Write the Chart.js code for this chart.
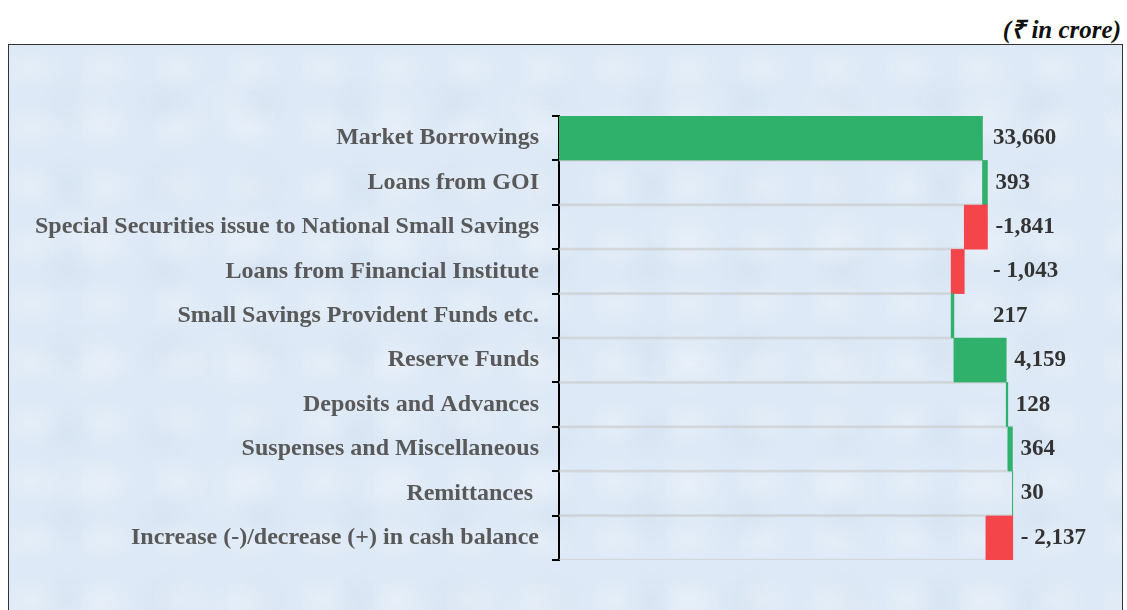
<!DOCTYPE html>
<html>
<head>
<meta charset="utf-8">
<script src="https://cdn.jsdelivr.net/npm/chart.js@4.4.1/dist/chart.umd.min.js"></script>
<style>
  html,body{margin:0;padding:0;background:#ffffff;width:1127px;height:610px;overflow:hidden;}
  #title{position:absolute;right:6px;top:11px;font-family:'Liberation Serif','Times New Roman',serif;font-weight:bold;font-style:italic;font-size:25px;color:#111;}
  #frame{position:absolute;left:8px;top:44px;width:1113px;height:600px;border:1px solid #333;
    background-color:#dde9f6;
    background-image:
      radial-gradient(ellipse at 30% 40%, rgba(255,255,255,0.22) 0, rgba(255,255,255,0) 35px),
      radial-gradient(ellipse at 60% 70%, rgba(190,205,225,0.18) 0, rgba(190,205,225,0) 30px),
      radial-gradient(ellipse at 50% 50%, rgba(255,255,255,0.15) 0, rgba(255,255,255,0) 45px);
    background-size:73px 59px, 97px 83px, 151px 127px;}
  #wrap{position:absolute;left:0;top:0;width:1127px;height:610px;}
</style>
</head>
<body>
<div id="title">(₹ in crore)</div>
<div id="frame"></div>
<div id="wrap"><canvas id="c" width="1127" height="610"></canvas></div>
<script>
const categories = [
  "Market Borrowings",
  "Loans from GOI",
  "Special Securities issue to National Small Savings",
  "Loans from Financial Institute",
  "Small Savings Provident Funds etc.",
  "Reserve Funds",
  "Deposits and Advances",
  "Suspenses and Miscellaneous",
  "Remittances ",
  "Increase (-)/decrease (+) in cash balance"
];
const values = [33660, 393, -1841, -1043, 217, 4159, 128, 364, 30, -2137];
const valueLabels = ["33,660", "393", "-1,841", "- 1,043", "217", "4,159", "128", "364", "30", "- 2,137"];

// waterfall: running totals built from the values
const starts = [];
const ends = [];
let run = 0;
values.forEach(v => { starts.push(run); run += v; ends.push(run); });
const baseData = starts.map((s, i) => Math.min(s, ends[i]));
const deltaData = values.map(v => Math.abs(v));

const GREEN = "#2fb06b";
const RED = "#f3454a";
const SERIF = "'Liberation Serif', 'Times New Roman', serif";

const valueLabelPlugin = {
  id: "valueLabels",
  afterDatasetsDraw(chart) {
    const ctx = chart.ctx;
    const xs = chart.scales.x, ys = chart.scales.y;
    const floorX = xs.getPixelForValue(34500);
    ctx.save();
    ctx.font = "bold 23px " + SERIF;
    ctx.fillStyle = "#333333";
    ctx.textAlign = "left";
    ctx.textBaseline = "middle";
    values.forEach((v, i) => {
      const endX = xs.getPixelForValue(Math.max(starts[i], ends[i]));
      const x = Math.max(endX + 8, floorX);
      const y = ys.getPixelForValue(i);
      ctx.fillText(valueLabels[i], x, y);
    });
    ctx.restore();
  }
};

new Chart(document.getElementById("c"), {
  type: "bar",
  data: {
    labels: categories,
    datasets: [
      {
        data: baseData,
        backgroundColor: "rgba(0,0,0,0)",
        borderColor: "rgba(200,200,200,0.55)",
        borderWidth: {top: 1, bottom: 1, left: 0, right: 0},
        borderSkipped: false,
        barPercentage: 1,
        categoryPercentage: 1
      },
      {
        data: deltaData,
        backgroundColor: values.map(v => v >= 0 ? GREEN : RED),
        borderWidth: 0,
        barPercentage: 1,
        categoryPercentage: 1
      }
    ]
  },
  options: {
    indexAxis: "y",
    responsive: false,
    animation: false,
    layout: {padding: {left: 0, right: 27, top: 116, bottom: 50}},
    plugins: {legend: {display: false}, tooltip: {enabled: false}},
    scales: {
      x: {
        stacked: true,
        display: false,
        min: 0,
        max: 43000
      },
      y: {
        stacked: true,
        afterFit(scale) { scale.width = 559; },
        grid: {display: true, drawOnChartArea: false, drawTicks: true, tickLength: 7, color: "#000", lineWidth: 2},
        border: {display: true, color: "#000", width: 2},
        ticks: {
          color: "#595959",
          padding: 13,
          font: {family: SERIF, weight: "bold", size: 24}
        }
      }
    }
  },
  plugins: [valueLabelPlugin]
});
</script>
</body>
</html>
